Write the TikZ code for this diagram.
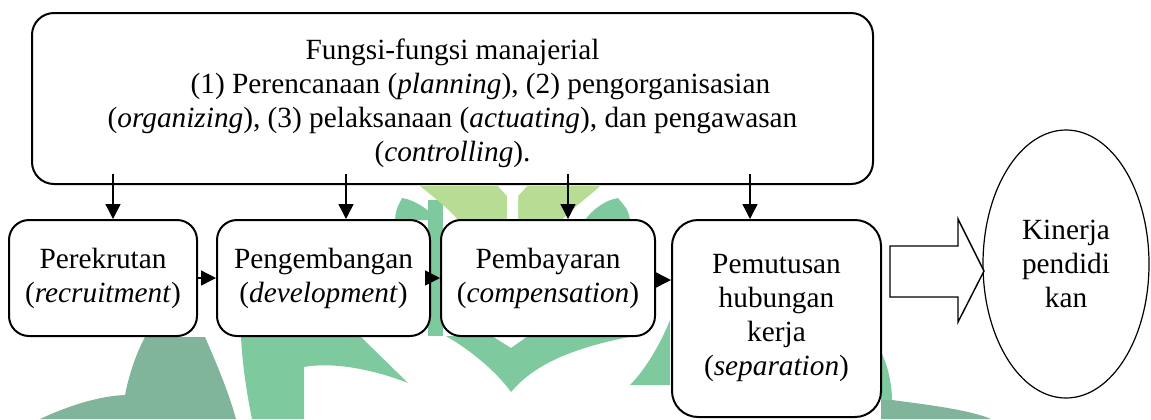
\documentclass[tikz,border=0pt]{standalone}
\usepackage{fontspec}
\setmainfont{Liberation Serif}
\usetikzlibrary{arrows.meta,shapes.geometric,calc}
\definecolor{wmdark}{RGB}{128,181,155}
\definecolor{wmmid}{RGB}{126,201,158}
\definecolor{wmlight}{RGB}{183,220,148}
\newcommand\diafont{\fontsize{14.65pt}{17pt}\selectfont}
\begin{document}
\begin{tikzpicture}[x=0.5pt,y=-0.5pt,
  box/.style={draw,line width=1pt,rounded corners=10pt,fill=white,align=center,inner sep=0pt,font=\diafont},
  arr/.style={line width=0.7pt,-{Triangle[length=7.5pt,width=7.5pt]}}]
\useasboundingbox (0,0) rectangle (1151,419);
% ---- watermark (background) ----
\fill[wmdark] (145,337) -- (205,337) .. controls (215,360) and (228,390) .. (236,419) -- (40,419)
   .. controls (70,405) and (100,396) .. (125,395) .. controls (130,370) and (138,350) .. (145,337) -- cycle;
\fill[wmmid] (241,336) -- (360,336) -- (408,383) .. controls (370,368) and (330,362) .. (304,367) -- (304,419) -- (252,419)
   .. controls (246,390) and (242,360) .. (241,336) -- cycle;
\fill[wmmid] (446,336) -- (492,336) -- (511,348) -- (528,336) -- (634,336) .. controls (560,350) and (530,370) .. (511,392)
   .. controls (495,370) and (470,350) .. (446,336) -- cycle;
\fill[wmmid] (670,320) -- (670,385) -- (630,385) .. controls (645,370) and (660,345) .. (670,320) -- cycle;
\fill[wmmid] (428,200) rectangle (443,336);
\fill[wmlight] (420,186) -- (600,186) .. controls (585,200) and (570,210) .. (562,220) -- (458,220)
   .. controls (450,210) and (435,198) .. (420,186) -- cycle;
\fill[white] (498,186) -- (527,186) -- (518,196) -- (518,220) -- (507,220) -- (507,196) -- cycle;
\fill[wmmid] (402,198) .. controls (415,200) and (430,210) .. (437,220) -- (395,220) .. controls (396,210) .. (402,198) -- cycle;
\fill[wmmid] (618,198) .. controls (605,200) and (592,210) .. (585,220) -- (630,220) .. controls (628,210) .. (618,198) -- cycle;
\fill[wmmid] (881,352) .. controls (890,370) and (892,390) .. (892,400) -- (881,400) -- cycle;
\fill[wmdark] (881,400) -- (892,400) .. controls (930,405) and (970,410) .. (991,419) -- (881,419) -- cycle;
% ---- top box ----
\node[box, minimum width=420.5pt, minimum height=85.5pt, rounded corners=11pt] (top) at (452.5,98.5) {};
\node[align=center, font=\diafont, inner sep=0pt] (toptxt) at (452.5,103.5)
  {Fungsi-fungsi manajerial\\
   \hspace*{28pt}(1) Perencanaan (\textit{planning}), (2) pengorganisasian\\
   (\textit{organizing}), (3) pelaksanaan (\textit{actuating}), dan pengawasan\\
   (\textit{controlling}).};
% ---- row of boxes ----
\node[box, minimum width=94pt, minimum height=58pt] (b1) at (103,278) {Perekrutan\\(\textit{recruitment})};
\node[box, minimum width=106.5pt, minimum height=58pt] (b2) at (323.5,278) {Pengembangan\\(\textit{development})};
\node[box, minimum width=107pt, minimum height=58pt] (b3) at (548,278) {Pembayaran\\(\textit{compensation})};
\node[box, minimum width=104.5pt, minimum height=98.5pt, rounded corners=13pt] (b4) at (776.5,318.5)
  {Pemutusan\\hubungan\\kerja\\(\textit{separation})};
% ---- ellipse ----
\node[draw, ellipse, line width=0.6pt, fill=white, minimum width=83pt, minimum height=134pt, inner sep=0pt,
      align=center, font=\diafont] (kin) at (1066,264) {Kinerja\\pendidi\\kan};
% ---- block arrow ----
\draw[line width=0.7pt, fill=white, line join=miter] (890,246) -- (958,246) -- (958,219) -- (984,271)
   -- (958,322) -- (958,297) -- (890,297) -- cycle;
% ---- arrows from top box ----
\path (113,0 |- top.south) ++(0,-11) coordinate (s1);
\path (346,0 |- top.south) ++(0,-11) coordinate (s2);
\path (568,0 |- top.south) ++(0,-11) coordinate (s3);
\path (750,0 |- top.south) ++(0,-11) coordinate (s4);
\draw[arr] (s1) -- (s1 |- b1.north);
\draw[arr] (s2) -- (s2 |- b2.north);
\draw[arr] (s3) -- (s3 |- b3.north);
\draw[arr] (s4) -- (s4 |- b4.north);
% ---- arrows between boxes ----
\draw[arr] (b1.east) -- (b2.west);
\draw[arr] (b2.east) -- (b3.west);
\path (b3.east) ++(0,2) coordinate (b3o);
\draw[arr] (b3o) -- (b3o -| b4.west);
\end{tikzpicture}
\end{document}
